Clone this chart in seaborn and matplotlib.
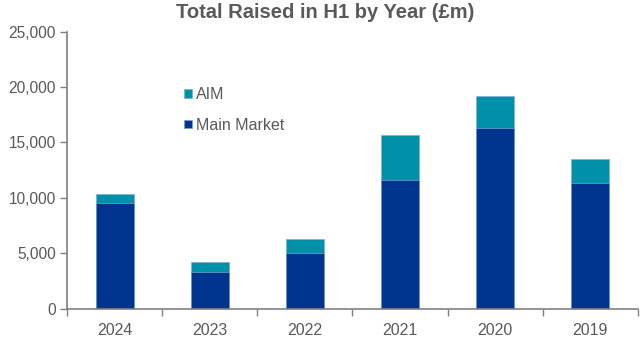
import matplotlib
matplotlib.use("Agg")
import matplotlib.pyplot as plt
import seaborn as sns
import pandas as pd
import numpy as np
from matplotlib.ticker import FuncFormatter, FixedLocator
from matplotlib.patches import Patch

years = ["2024", "2023", "2022", "2021", "2020", "2019"]
main_market = [9490, 3330, 4980, 11650, 16290, 11380]
aim = [810, 900, 1290, 3980, 2860, 2090]

df = pd.DataFrame({"Year": years, "Main Market": main_market, "AIM": aim})
df["Total"] = df["Main Market"] + df["AIM"]

MAIN_C = "#00358F"
AIM_C = "#0090AA"
GREY = "#595959"

sns.set_theme(style="white")
plt.rcParams["font.family"] = ["Liberation Sans", "DejaVu Sans"]

fig = plt.figure(figsize=(6.4, 3.5), dpi=100)
ax = fig.add_axes([0.1047, 0.118, 0.892, 0.792])

sns.barplot(data=df, x="Year", y="Total", color=AIM_C, width=0.4, ax=ax,
            saturation=1, edgecolor="#7fb0d0", linewidth=0.5)
sns.barplot(data=df, x="Year", y="Main Market", color=MAIN_C, width=0.4, ax=ax,
            saturation=1, edgecolor="#7f9fd0", linewidth=0.5)

ax.set_xlim(-0.5, len(years) - 0.5)
ax.set_ylim(0, 25000)
ax.set_yticks(np.arange(0, 25001, 5000))
ax.yaxis.set_major_formatter(FuncFormatter(lambda v, p: f"{int(v):,}"))
ax.xaxis.set_minor_locator(FixedLocator(np.arange(-0.5, len(years), 1.0)))
ax.tick_params(axis="x", which="major", length=0, pad=10, labelsize=11.5, labelcolor=GREY)
ax.tick_params(axis="x", which="minor", length=5, width=1, color="#808080", direction="out", bottom=True)
ax.tick_params(axis="y", length=5, width=1, color="#808080", direction="out", left=True,
               labelsize=11.2, labelcolor=GREY, pad=3)
ax.set_xlabel("")
ax.set_ylabel("")

for s in ["top", "right"]:
    ax.spines[s].set_visible(False)
for s in ["left", "bottom"]:
    ax.spines[s].set_color("#808080")
    ax.spines[s].set_linewidth(1.2)

fig.suptitle("Total Raised in H1 by Year (£m)", x=0.508, y=0.99, fontsize=14.5,
             fontweight="bold", color=GREY)

handles = [Patch(facecolor=AIM_C, edgecolor="#7fb0d0", linewidth=0.5, label="AIM"),
           Patch(facecolor=MAIN_C, edgecolor="#7f9fd0", linewidth=0.5, label="Main Market")]
leg = ax.legend(handles=handles, loc="upper left", bbox_to_anchor=(0.18, 0.85),
                frameon=False, fontsize=11.5, handlelength=0.47, handleheight=0.47,
                handletextpad=0.3, labelspacing=0.95, labelcolor=GREY)

fig.savefig("out.png", dpi=100)
